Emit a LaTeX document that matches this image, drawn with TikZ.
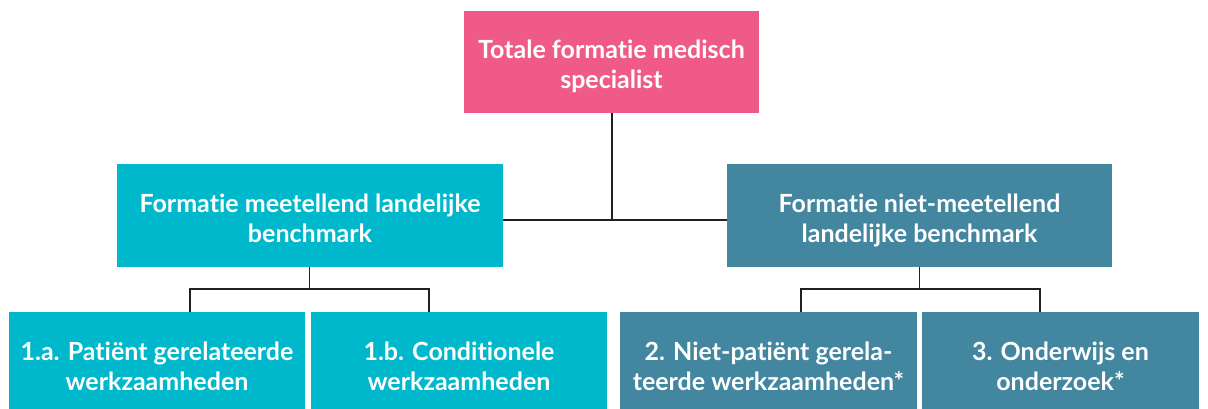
\documentclass[tikz,border=0pt]{standalone}
\usepackage{fontspec}
\setmainfont{Lato}[Ligatures={NoCommon,NoRare}]
\usetikzlibrary{positioning}
\definecolor{mpink}{HTML}{F05A88}
\definecolor{mcyan}{HTML}{00B8CC}
\definecolor{mteal}{HTML}{42869F}
\definecolor{mline}{HTML}{231F20}
\tikzset{
  box/.style={rectangle, text=white, align=center, inner sep=0pt,
    text height=58pt, text depth=5pt,
    font=\bfseries\fontsize{25}{29.5}\selectfont},
  link/.style={mline, line width=1.3pt}
}

\begin{document}
\begin{tikzpicture}[x=1pt, y=-1pt]
      \useasboundingbox (0, 0) rectangle (1208, 409);

      \node [box, fill=mpink, minimum width=295pt, minimum height=102pt] (total) at (611.5, 62) {Totale formatie medisch\\specialist};
      \node [box, fill=mcyan, minimum width=386pt, minimum height=103pt] (meetellend) at (310, 215.5) {Formatie meetellend landelijke\\benchmark};
      \node [box, fill=mteal, minimum width=385pt, minimum height=103pt] (nietmeetellend) at (919.5, 215.5) {Formatie niet-meetellend\\landelijke benchmark};

      \node [box, fill=mcyan, minimum width=296pt, minimum height=103pt] (patient) at (157, 363.5) {1.a. Patiënt gerelateerde\\werkzaamheden};
      \node [box, fill=mcyan, minimum width=296pt, minimum height=103pt] (conditioneel) at (459, 363.5) {1.b. Conditionele\\werkzaamheden};
      \node [box, fill=mteal, minimum width=297pt, minimum height=103pt] (nietpatient) at (768.5, 363.5) {2. Niet-patiënt gerela-\\teerde werkzaamheden*};
      \node [box, fill=mteal, minimum width=277pt, minimum height=103pt] (onderwijs) at (1060.5, 363.5) {3. Onderwijs en\\onderzoek*};

      \coordinate (topjoin) at (612, 220);
      \coordinate (leftjoin) at (309.5, 289);
      \coordinate (rightjoin) at (919.5, 289);

      \draw [link] (total.south -| topjoin) -- (topjoin);
      \draw [link] (meetellend.east |- topjoin) -- (nietmeetellend.west |- topjoin);

      \draw [link] (meetellend.south -| leftjoin) -- (leftjoin);
      \draw [link] ([xshift=33pt]patient.north) |- (leftjoin) -| ([xshift=-30pt]conditioneel.north);

      \draw [link] (nietmeetellend.south -| rightjoin) -- (rightjoin);
      \draw [link] ([xshift=32.5pt]nietpatient.north) |- (rightjoin) -| ([xshift=-20.5pt]onderwijs.north);
    \end{tikzpicture}
\end{document}
